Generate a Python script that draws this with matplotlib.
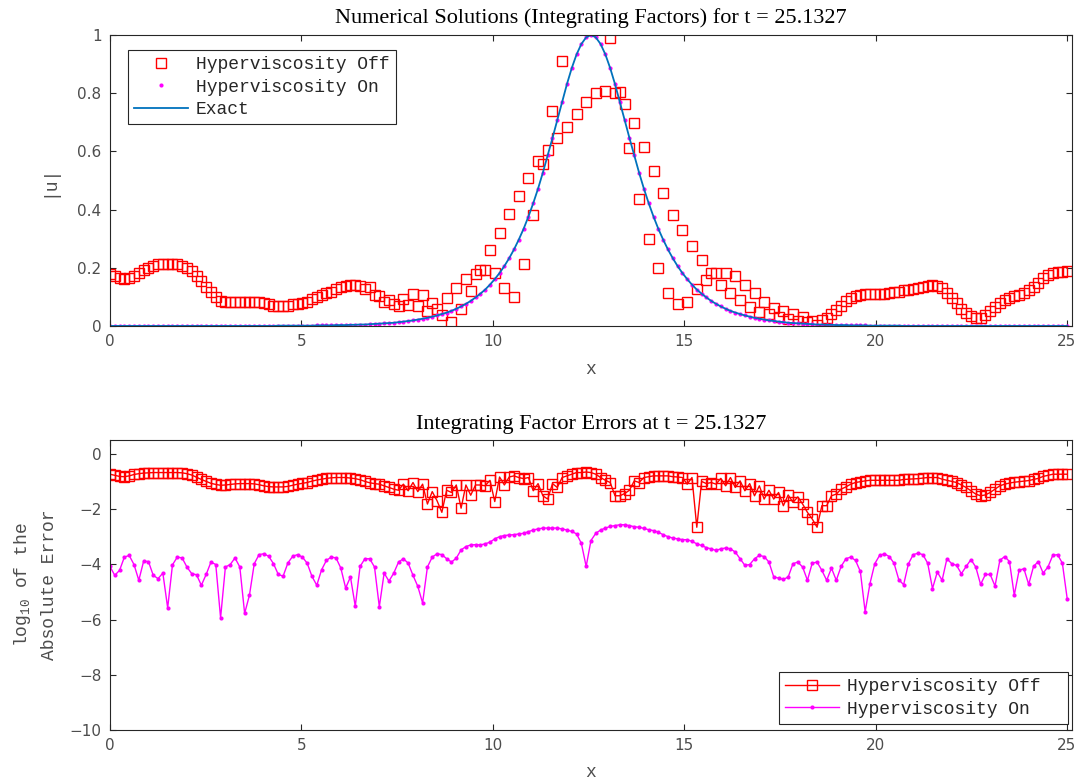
import numpy as np
import matplotlib.pyplot as plt

# Integrating-factor runs on [0, 8*pi], 200 grid points, final time t = 8*pi
N = 200
L = 8 * np.pi
T_FINAL = 25.1327
x = np.arange(N) * (L / N)

# |u| without hyperviscosity (odd/even decoupling near the pulse)
u_off = [
    0.178, 0.173, 0.164, 0.161, 0.164, 0.173, 0.181, 0.192, 0.200, 0.207,
    0.212, 0.213, 0.213, 0.213, 0.212, 0.207, 0.200, 0.189, 0.173, 0.155,
    0.135, 0.118, 0.101, 0.087, 0.081, 0.081, 0.082, 0.083, 0.083, 0.083,
    0.083, 0.081, 0.078, 0.075, 0.070, 0.068, 0.068, 0.070, 0.075, 0.077,
    0.079, 0.084, 0.092, 0.099, 0.107, 0.112, 0.118, 0.126, 0.133, 0.137,
    0.141, 0.141, 0.137, 0.126, 0.133, 0.107, 0.103, 0.084, 0.089, 0.076,
    0.069, 0.092, 0.072, 0.110, 0.069, 0.107, 0.050, 0.078, 0.058, 0.038,
    0.096, 0.015, 0.130, 0.058, 0.160, 0.120, 0.178, 0.192, 0.192, 0.261,
    0.183, 0.321, 0.129, 0.384, 0.101, 0.447, 0.212, 0.510, 0.381, 0.567,
    0.557, 0.605, 0.739, 0.645, 0.912, 0.683, 1.060, 0.727, 1.120, 0.771,
    1.120, 0.802, 1.070, 0.809, 0.989, 0.802, 0.805, 0.763, 0.610, 0.699,
    0.435, 0.616, 0.299, 0.533, 0.198, 0.456, 0.115, 0.381, 0.076, 0.330,
    0.084, 0.275, 0.126, 0.227, 0.158, 0.181, 0.181, 0.141, 0.181, 0.112,
    0.170, 0.089, 0.141, 0.066, 0.112, 0.049, 0.084, 0.040, 0.062, 0.030,
    0.053, 0.025, 0.040, 0.018, 0.030, 0.012, 0.018, 0.002, 0.020, 0.028,
    0.040, 0.055, 0.070, 0.085, 0.095, 0.102, 0.107, 0.109, 0.110, 0.110,
    0.110, 0.110, 0.112, 0.116, 0.118, 0.122, 0.124, 0.127, 0.132, 0.135,
    0.137, 0.140, 0.137, 0.129, 0.115, 0.097, 0.078, 0.057, 0.043, 0.034,
    0.028, 0.026, 0.038, 0.052, 0.066, 0.078, 0.089, 0.097, 0.104, 0.108,
    0.115, 0.122, 0.133, 0.149, 0.164, 0.175, 0.183, 0.187, 0.187, 0.188,
]

# |u| with hyperviscosity -- indistinguishable from the exact pulse here
u_on = [0.000] * 35 + [
    0.001, 0.001, 0.001, 0.001, 0.001, 0.001, 0.001, 0.001, 0.002, 0.002,
    0.002, 0.002, 0.003, 0.003, 0.003, 0.004, 0.004, 0.005, 0.005, 0.006,
    0.007, 0.008, 0.009, 0.010, 0.011, 0.013, 0.015, 0.017, 0.019, 0.022,
    0.025, 0.028, 0.032, 0.036, 0.041, 0.046, 0.052, 0.059, 0.067, 0.076,
    0.086, 0.098, 0.111, 0.125, 0.142, 0.161, 0.182, 0.206, 0.233, 0.263,
    0.297, 0.334, 0.376, 0.422, 0.472, 0.527, 0.586, 0.646, 0.708, 0.770,
    0.831, 0.886, 0.933, 0.969, 0.992, 1.000, 0.992, 0.969, 0.933, 0.886,
    0.831, 0.770, 0.708, 0.646, 0.586, 0.527, 0.472, 0.422, 0.376, 0.334,
    0.297, 0.263, 0.233, 0.206, 0.182, 0.161, 0.142, 0.125, 0.111, 0.098,
    0.086, 0.076, 0.067, 0.059, 0.052, 0.046, 0.041, 0.036, 0.032, 0.028,
    0.025, 0.022, 0.019, 0.017, 0.015, 0.013, 0.011, 0.010, 0.009, 0.008,
    0.007, 0.006, 0.005, 0.005, 0.004, 0.004, 0.003, 0.003, 0.003, 0.002,
    0.002, 0.002, 0.002, 0.001, 0.001, 0.001, 0.001, 0.001, 0.001, 0.001,
] + [0.000] * 35

u_exact = u_on

# log10 of the absolute error
err_off = [
    -0.74, -0.78, -0.82, -0.83, -0.80, -0.75, -0.72, -0.70, -0.69, -0.68,
    -0.68, -0.68, -0.68, -0.68, -0.68, -0.69, -0.72, -0.77, -0.85, -0.93,
    -1.00, -1.07, -1.11, -1.14, -1.13, -1.11, -1.09, -1.08, -1.08, -1.08,
    -1.09, -1.12, -1.16, -1.19, -1.20, -1.20, -1.20, -1.18, -1.14, -1.10,
    -1.07, -1.04, -0.99, -0.95, -0.92, -0.89, -0.87, -0.86, -0.86, -0.86,
    -0.88, -0.90, -0.94, -1.00, -1.05, -1.08, -1.10, -1.16, -1.22, -1.28,
    -1.32, -1.10, -1.34, -1.04, -1.37, -1.10, -1.82, -1.37, -1.70, -2.12,
    -1.32, -1.40, -1.13, -1.97, -1.13, -1.50, -1.13, -1.13, -1.16, -0.96,
    -1.73, -0.84, -1.13, -0.84, -0.80, -0.86, -0.90, -0.86, -1.34, -1.08,
    -1.52, -1.64, -1.08, -1.22, -0.86, -0.80, -0.74, -0.68, -0.68, -0.66,
    -0.68, -0.74, -0.86, -0.96, -1.04, -1.52, -1.52, -1.44, -1.32, -0.98,
    -1.04, -0.86, -0.83, -0.80, -0.80, -0.80, -0.80, -0.83, -0.84, -0.86,
    -1.10, -0.86, -2.66, -1.00, -1.08, -1.04, -1.10, -0.89, -1.16, -0.86,
    -1.22, -0.98, -1.34, -1.08, -1.52, -1.16, -1.64, -1.32, -1.64, -1.40,
    -1.88, -1.49, -1.76, -1.56, -1.82, -2.12, -2.36, -2.66, -1.88, -1.88,
    -1.52, -1.46, -1.28, -1.20, -1.10, -1.04, -1.01, -0.98, -0.96, -0.96,
    -0.96, -0.96, -0.96, -0.96, -0.96, -0.93, -0.92, -0.91, -0.90, -0.88,
    -0.86, -0.86, -0.86, -0.92, -0.96, -1.00, -1.04, -1.13, -1.22, -1.34,
    -1.46, -1.52, -1.49, -1.40, -1.28, -1.16, -1.10, -1.06, -1.03, -1.01,
    -0.99, -0.97, -0.93, -0.89, -0.82, -0.78, -0.74, -0.74, -0.74, -0.74,
]

err_on = [
    -4.08, -4.40, -4.22, -3.74, -3.68, -4.01, -4.58, -3.89, -3.90, -4.40,
    -4.52, -4.32, -5.58, -4.02, -3.74, -3.77, -4.10, -4.34, -4.38, -4.76,
    -4.37, -3.92, -4.01, -5.94, -4.10, -4.01, -3.77, -4.10, -5.78, -5.12,
    -3.98, -3.65, -3.62, -3.71, -3.98, -4.37, -4.43, -3.95, -3.71, -3.65,
    -3.74, -3.96, -4.44, -4.76, -4.20, -3.86, -3.74, -3.77, -4.14, -4.86,
    -4.46, -5.52, -4.08, -3.80, -3.80, -4.10, -5.54, -4.32, -4.61, -4.32,
    -3.92, -3.80, -3.96, -4.40, -4.80, -5.40, -4.10, -3.74, -3.62, -3.65,
    -3.80, -3.92, -3.78, -3.48, -3.36, -3.30, -3.29, -3.30, -3.26, -3.20,
    -3.08, -3.00, -2.96, -2.94, -2.93, -2.90, -2.88, -2.82, -2.76, -2.72,
    -2.69, -2.69, -2.69, -2.69, -2.72, -2.76, -2.81, -2.90, -3.24, -4.08,
    -3.14, -2.88, -2.76, -2.69, -2.63, -2.60, -2.57, -2.57, -2.60, -2.64,
    -2.66, -2.70, -2.75, -2.78, -2.84, -2.93, -3.00, -3.05, -3.08, -3.11,
    -3.11, -3.17, -3.26, -3.32, -3.40, -3.44, -3.50, -3.44, -3.41, -3.44,
    -3.56, -3.80, -4.04, -4.01, -3.80, -3.68, -3.72, -3.92, -4.46, -4.50,
    -4.55, -4.46, -3.98, -3.92, -4.10, -4.58, -3.96, -3.92, -4.22, -4.58,
    -4.14, -4.58, -4.08, -3.80, -3.74, -3.86, -4.26, -5.72, -4.70, -3.98,
    -3.68, -3.62, -3.72, -3.96, -4.56, -4.74, -3.98, -3.65, -3.60, -3.65,
    -3.96, -4.88, -4.28, -4.58, -3.80, -3.98, -4.04, -4.34, -4.08, -3.83,
    -4.10, -4.73, -4.37, -4.37, -4.79, -3.86, -3.72, -3.90, -5.12, -4.22,
    -4.16, -4.73, -4.08, -3.90, -4.32, -4.10, -3.68, -3.65, -3.96, -5.24,
]

MONO = "Liberation Mono"
SERIF = "Liberation Serif"
FRAME = "#262626"
TICKC = "#4d4d4d"
BLUE = "#0072BD"

fig = plt.figure(figsize=(10.79, 7.83), dpi=100)
ax1 = fig.add_axes([0.1019, 0.5837, 0.8916, 0.3716])
ax2 = fig.add_axes([0.1019, 0.0677, 0.8916, 0.3704])


def style_axes(ax):
    for sp in ax.spines.values():
        sp.set_color(FRAME)
        sp.set_linewidth(0.8)
    ax.tick_params(direction="in", length=4, width=0.8, top=True, right=True,
                   color=FRAME, labelcolor=TICKC, labelsize=11, pad=6)
    ax.set_xlim(0, L)
    ax.set_xticks([0, 5, 10, 15, 20, 25])


def make_legend(ax, anchor, loc):
    leg = ax.legend(loc=loc, bbox_to_anchor=anchor, bbox_transform=fig.transFigure,
                    prop={"family": MONO, "size": 13}, fancybox=False,
                    edgecolor=FRAME, framealpha=1, borderaxespad=0,
                    handlelength=3.0, labelspacing=0.3, borderpad=0.35,
                    handletextpad=0.4, numpoints=1)
    leg.get_frame().set_linewidth(0.8)
    for t in leg.get_texts():
        t.set_color(FRAME)
    return leg


# --- top panel: |u| ---
ax1.plot(x, u_off, ls="none", marker="s", ms=7, mfc="none", mec="red",
         mew=1.0, label="Hyperviscosity Off")
ax1.plot(x, u_on, ls="none", marker="o", ms=3, mfc="magenta", mec="none",
         label="Hyperviscosity On")
ax1.plot(x, u_exact, color=BLUE, lw=1.3, label="Exact")
style_axes(ax1)
ax1.set_ylim(0, 1)
ax1.set_yticks([0, 0.2, 0.4, 0.6, 0.8, 1])
ax1.set_yticklabels(["0", "0.2", "0.4", "0.6", "0.8", "1"])
ax1.set_title(f"Numerical Solutions (Integrating Factors) for t = {T_FINAL}",
              family=SERIF, fontsize=16, pad=9)
ax1.set_xlabel("x", family=MONO, fontsize=13, color=TICKC, va="center")
ax1.xaxis.set_label_coords(0.5, -0.151)
ax1.set_ylabel("|u|", family=MONO, fontsize=13, color=TICKC, va="center")
ax1.yaxis.set_label_coords(-0.063, 0.5)
make_legend(ax1, (128 / 1079, 1 - 50 / 783), "upper left")

# --- bottom panel: log10 errors ---
ax2.plot(x, err_off, color="red", lw=1.0, marker="s", ms=7, mfc="none",
         mew=1.0, label="Hyperviscosity Off  ")
ax2.plot(x, err_on, color="magenta", lw=1.0, marker="o", ms=3, mec="none",
         label="Hyperviscosity On  ")
style_axes(ax2)
ax2.set_ylim(-10, 0.5)
ax2.set_yticks([-10, -8, -6, -4, -2, 0])
ax2.set_yticklabels(["\u221210", "\u22128", "\u22126", "\u22124", "\u22122", "0"])
ax2.set_title(f"Integrating Factor Errors at t = {T_FINAL}",
              family=SERIF, fontsize=16, pad=8)
ax2.set_xlabel("x", family=MONO, fontsize=13, color=TICKC, va="center")
ax2.xaxis.set_label_coords(0.5, -0.145)
ax2.set_ylabel("$\\mathregular{log_{10}}$ of the\nAbsolute Error", family=MONO,
               fontsize=13, color=TICKC, va="center", linespacing=1.6)
ax2.yaxis.set_label_coords(-0.078, 0.5)
make_legend(ax2, (1068 / 1079, 1 - 724 / 783), "lower right")

fig.savefig("out.png", dpi=100)
